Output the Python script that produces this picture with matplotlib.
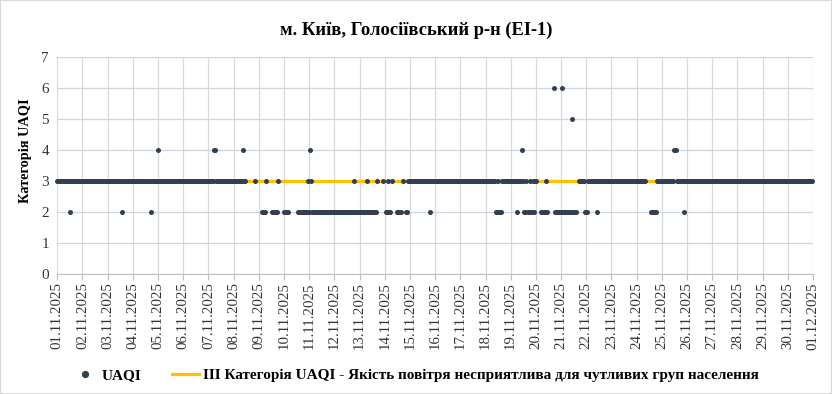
import numpy as np
import matplotlib
matplotlib.use("Agg")
import matplotlib.pyplot as plt
from matplotlib.lines import Line2D
from matplotlib.patches import Rectangle

title = "м. Київ, Голосіївський р-н (ЕІ-1)"
y_label = "Категорія UAQI"
series_name = "UAQI"
threshold_name = "III Категорія UAQI - Якість повітря несприятлива для чутливих груп населення"
threshold_value = 3
n_hours = 720

# Hourly UAQI category, as runs (first hour, last hour, category).
# Hours not covered by any run are missing values.
uaqi_runs = [
    (0, 11, 3), (12, 12, 2), (13, 61, 3), (62, 62, 2), (63, 88, 3), (89, 89, 2),
    (90, 95, 3), (96, 96, 4), (97, 148, 3), (149, 150, 4), (151, 176, 3),
    (177, 177, 4), (178, 179, 3),
    (188, 188, 3), (195, 198, 2), (199, 199, 3), (205, 209, 2), (210, 210, 3),
    (216, 220, 2), (229, 238, 2), (239, 239, 3), (240, 240, 2), (241, 241, 4),
    (242, 242, 3), (243, 282, 2), (283, 283, 3), (284, 294, 2), (295, 295, 3),
    (296, 304, 2), (305, 305, 3), (310, 310, 3), (313, 314, 2), (315, 315, 3),
    (316, 317, 2), (319, 319, 3), (324, 327, 2), (329, 329, 3), (332, 333, 2),
    (334, 354, 3), (355, 355, 2), (356, 417, 3), (418, 419, 2), (420, 420, 3),
    (421, 423, 2), (424, 437, 3), (438, 438, 2), (439, 442, 3), (443, 443, 4),
    (444, 444, 3), (445, 446, 2), (447, 447, 3), (448, 449, 2), (450, 450, 3),
    (451, 452, 2), (453, 453, 3), (454, 454, 2), (455, 456, 3),
    (461, 465, 2), (466, 466, 3), (467, 467, 2),
    (473, 473, 6), (474, 480, 2), (481, 481, 6), (482, 489, 2), (490, 490, 5),
    (491, 494, 2), (497, 502, 3), (503, 505, 2), (506, 513, 3), (514, 514, 2),
    (515, 560, 3), (566, 570, 2), (571, 587, 3), (588, 589, 4), (590, 596, 3),
    (597, 597, 2), (598, 719, 3),
]

day_labels = [
    "01.11.2025", "02.11.2025", "03.11.2025", "04.11.2025", "05.11.2025",
    "06.11.2025", "07.11.2025", "08.11.2025", "09.11.2025", "10.11.2025",
    "11.11.2025", "12.11.2025", "13.11.2025", "14.11.2025", "15.11.2025",
    "16.11.2025", "17.11.2025", "18.11.2025", "19.11.2025", "20.11.2025",
    "21.11.2025", "22.11.2025", "23.11.2025", "24.11.2025", "25.11.2025",
    "26.11.2025", "27.11.2025", "28.11.2025", "29.11.2025", "30.11.2025",
    "01.12.2025",
]
y_ticks = [0, 1, 2, 3, 4, 5, 6, 7]

# ---- build hourly series ----
uaqi = np.full(n_hours, np.nan)
for start, end, cat in uaqi_runs:
    uaqi[start:end + 1] = cat
x_days = np.arange(n_hours) / 24.0

DOT = "#323F4F"
GOLD = "#FFC000"
plt.rcParams["font.family"] = ["Liberation Serif", "DejaVu Serif"]

W, H = 832, 394
fig = plt.figure(figsize=(W / 100, H / 100), dpi=100)
ax = fig.add_axes([57.3 / W, 1 - 274 / H, (813 - 57.3) / W, (274 - 57) / H])

ax.plot([x_days[0], x_days[-1]], [threshold_value, threshold_value], color=GOLD,
        lw=2.3, zorder=2, solid_capstyle="butt")
ax.scatter(x_days, uaqi, s=13, color=DOT, linewidths=0, zorder=3, clip_on=False)

ax.set_xlim(0, len(day_labels) - 1)
ax.set_ylim(y_ticks[0], y_ticks[-1])
ax.set_xticks(range(len(day_labels)))
ax.set_xticklabels(day_labels, rotation=90, fontsize=10.7, color="#333333")
ax.set_yticks(y_ticks)
ax.set_yticklabels([str(v) for v in y_ticks], fontsize=11, color="#333333")

ax.grid(axis="x", color="#D9D9D9", lw=0.9, zorder=0)
ax.grid(axis="y", color="#CDD5E0", lw=0.9, zorder=0)
ax.set_axisbelow(True)
for s in ["top", "right", "left"]:
    ax.spines[s].set_visible(False)
ax.spines["bottom"].set_color("#BFBFBF")
ax.tick_params(axis="x", length=4, color="#BFBFBF", pad=2)
ax.tick_params(axis="y", length=0, pad=6)

fig.text(25 / W, 1 - 151 / H, y_label, rotation=90, ha="center", va="center",
         fontsize=10.4, fontweight="bold")
fig.text(0.5, 1 - 30 / H, title, ha="center", va="center", fontsize=13.3,
         fontweight="bold")

handles = [
    Line2D([], [], marker="o", ls="", color=DOT, markersize=4.2),
    Line2D([], [], color=GOLD, lw=2.3),
]
fig.legend(handles, [series_name, threshold_name], loc="center",
           bbox_to_anchor=(415 / W, 1 - 375 / H), ncol=2, frameon=False,
           prop={"weight": "bold", "size": 11.0}, handlelength=1.75,
           handletextpad=0.25, columnspacing=2.0)

fig.add_artist(Rectangle((0, 0), 1, 1, transform=fig.transFigure, fill=False,
                         edgecolor="#D9D9D9", lw=1.5))

fig.savefig("out.png", dpi=100)
